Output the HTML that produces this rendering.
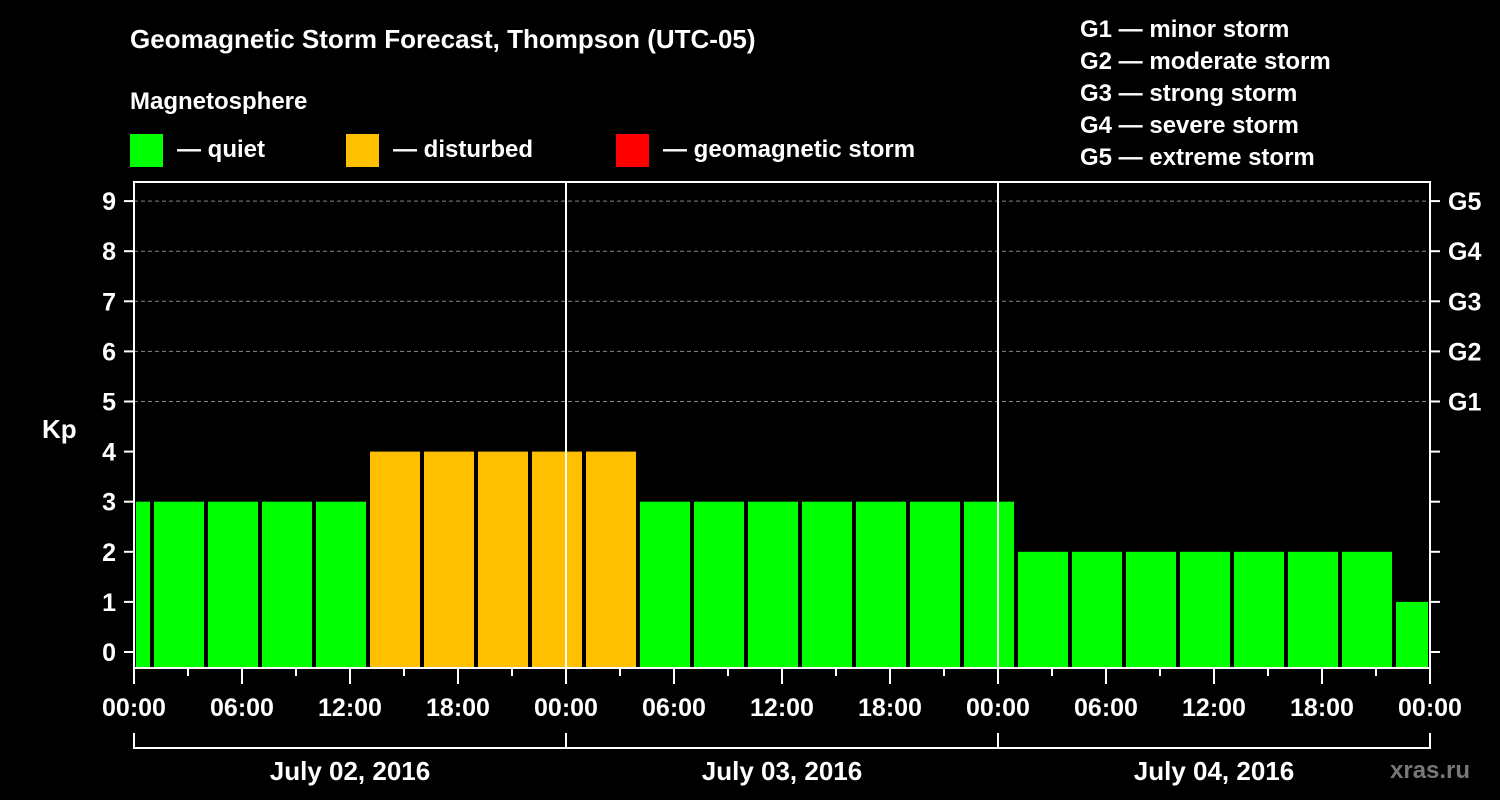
<!DOCTYPE html>
<html><head><meta charset="utf-8"><style>
body{margin:0;background:#000;}
svg{display:block;font-family:"Liberation Sans",Arial,sans-serif;font-weight:bold;}
</style></head><body>
<svg id="c" width="1500" height="800">
<text x="130" y="48" fill="#fff" font-size="26">Geomagnetic Storm Forecast, Thompson (UTC-05)</text>
<text x="130" y="109" fill="#fff" font-size="24">Magnetosphere</text>
<rect x="130" y="134" width="33" height="33" fill="#00ff00"/>
<text x="177" y="157" fill="#fff" font-size="24">— quiet</text>
<rect x="346" y="134" width="33" height="33" fill="#ffc000"/>
<text x="393" y="157" fill="#fff" font-size="24">— disturbed</text>
<rect x="616" y="134" width="33" height="33" fill="#ff0000"/>
<text x="663" y="157" fill="#fff" font-size="24">— geomagnetic storm</text>
<g fill="#fff" font-size="24">
<text x="1080" y="37">G1 — minor storm</text>
<text x="1080" y="69">G2 — moderate storm</text>
<text x="1080" y="101">G3 — strong storm</text>
<text x="1080" y="133">G4 — severe storm</text>
<text x="1080" y="165">G5 — extreme storm</text>
</g>
<text x="42" y="438" fill="#fff" font-size="26">Kp</text>
<text x="1390" y="778" fill="#777" font-size="24">xras.ru</text>
<g id="plot"></g>
</svg>
<script>
const kpValues=[3,3,3,3,3,4,4,4,4,4,3,3,3,3,3,3,3,2,2,2,2,2,2,2,1];
const yTicks=[0,1,2,3,4,5,6,7,8,9];
const gLabels=["G1","G2","G3","G4","G5"];
const timeLabels=["00:00","06:00","12:00","18:00","00:00","06:00","12:00","18:00","00:00","06:00","12:00","18:00","00:00"];
const dateLabels=["July 02, 2016","July 03, 2016","July 04, 2016"];
const NS="http://www.w3.org/2000/svg";
const L=134,R=1430,T=182,B=668,HOURS=72;
const x=h=>L+(R-L)*h/HOURS;
const y=v=>652-v*50.1;
const g=document.getElementById('plot');
function mk(t,a,p){const e=document.createElementNS(NS,t);for(const k in a)e.setAttribute(k,a[k]);(p||g).appendChild(e);return e;}
// grid
for(let v=5;v<=9;v++){const e=mk('line',{x1:L,x2:R,y1:y(v),y2:y(v),stroke:'#888','stroke-dasharray':'4,3','stroke-width':1});

}
// bars
kpValues.forEach((v,i)=>{let h0=Math.max(0,-2+3*i),h1=Math.min(HOURS,1+3*i);
const col=v>=5?'#ff0000':(v>=4?'#ffc000':'#00ff00');
const r=mk('rect',{x:x(h0)+2,y:y(v),width:x(h1)-x(h0)-4,height:B-1-y(v),fill:col});

});
// day separators
[24,48].forEach(h=>{const e=mk('line',{x1:x(h),x2:x(h),y1:T,y2:B,stroke:'#fff','stroke-width':2});

});
// frame
const f=mk('rect',{x:L,y:T,width:R-L,height:B-T,fill:'none',stroke:'#fff','stroke-width':2});


// y ticks
yTicks.forEach(v=>{mk('line',{x1:L-10,x2:L,y1:y(v),y2:y(v),stroke:'#fff','stroke-width':2});
mk('line',{x1:R,x2:R+10,y1:y(v),y2:y(v),stroke:'#fff','stroke-width':2});
const t=mk('text',{x:L-18,y:y(v)+9,fill:'#fff','font-size':25,'text-anchor':'end'});t.textContent=v;

});
gLabels.forEach((s,i)=>{const t=mk('text',{x:R+18,y:y(5+i)+9,fill:'#fff','font-size':25});t.textContent=s;

});
// x ticks
for(let h=0;h<=HOURS;h+=3){const maj=h%6===0;mk('line',{x1:x(h),x2:x(h),y1:B,y2:B+(maj?16:8),stroke:'#fff','stroke-width':2});}
timeLabels.forEach((s,i)=>{const t=mk('text',{x:x(i*6),y:716,fill:'#fff','font-size':25,'text-anchor':'middle'});t.textContent=s;

});
// date bracket
mk('line',{x1:L,x2:R,y1:748,y2:748,stroke:'#fff','stroke-width':2});
[0,24,48,72].forEach(h=>mk('line',{x1:x(h),x2:x(h),y1:733,y2:749,stroke:'#fff','stroke-width':2}));
dateLabels.forEach((s,i)=>{const t=mk('text',{x:x(i*24+12),y:780,fill:'#fff','font-size':26,'text-anchor':'middle'});t.textContent=s;

});
</script>
</body></html>
